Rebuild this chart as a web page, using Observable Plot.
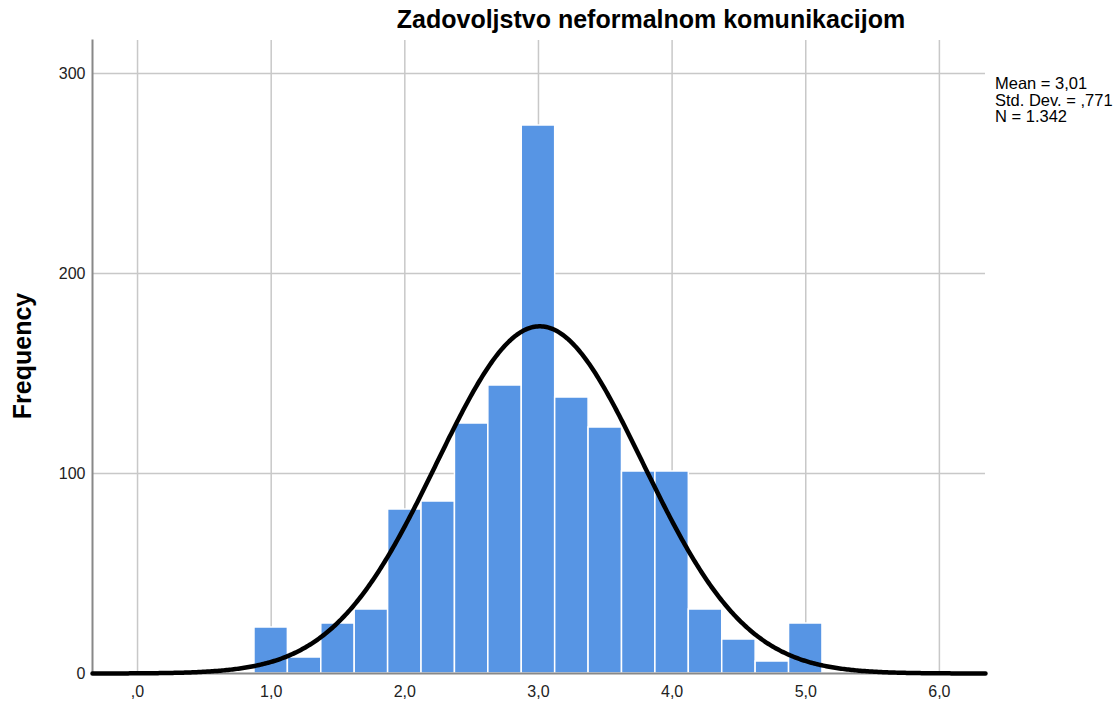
<!DOCTYPE html>
<html><head><meta charset="utf-8">
<script src="https://cdn.jsdelivr.net/npm/d3@7"></script>
<script src="https://cdn.jsdelivr.net/npm/@observablehq/plot@0.6"></script>
<style>
body{margin:0;background:#fff;font-family:"Liberation Sans",Arial,sans-serif;}
#wrap{position:relative;width:1120px;height:707px;}
#title{position:absolute;left:0;width:1302px;top:5px;text-align:center;font-weight:bold;font-size:25px;color:#000;}
#ylab{position:absolute;left:22px;top:356px;transform:translate(-50%,-50%) rotate(-90deg);font-weight:bold;font-size:25px;color:#000;white-space:nowrap;}
#stats{position:absolute;left:995px;top:75px;font-size:16.5px;line-height:16.5px;color:#000;}
</style></head><body>
<div id="wrap"><div id="chart"></div>
<div id="title">Zadovoljstvo neformalnom komunikacijom</div>
<div id="ylab">Frequency</div>
<div id="stats">Mean = 3,01<br>Std. Dev. = ,771<br>N = 1.342</div>
</div>
<script>
const binStart = [0.875,1.125,1.375,1.625,1.875,2.125,2.375,2.625,2.875,3.125,3.375,3.625,3.875,4.125,4.375,4.625,4.875];
const binEnd   = [1.125,1.375,1.625,1.875,2.125,2.375,2.625,2.875,3.125,3.375,3.625,3.875,4.125,4.375,4.625,4.875,5.125];
const counts   = [23,8,25,32,82,86,125,144,274,138,123,101,101,32,17,6,25];
const xTicks = [0,1,2,3,4,5,6];
const yTicks = [0,100,200,300];
const mean = 3.01, sd = 0.771, n = 1342, binWidth = 0.25;

const bars = counts.map((c,i)=>({x1:binStart[i],x2:binEnd[i],y:c}));
const xDom = [-0.337, 6.345];
const curve = d3.range(0, 601).map(i=>{
  const x = xDom[0] + (xDom[1]-xDom[0])*i/600;
  const y = n*binWidth/(sd*Math.sqrt(2*Math.PI))*Math.exp(-0.5*((x-mean)/sd)**2);
  return {x,y};
});
const fmt = d => d.toFixed(1).replace(".", ",").replace(/^0/, "");

const plot = Plot.plot({
  width:1120, height:707,
  marginLeft:92, marginRight:135, marginTop:40, marginBottom:34,
  style:{fontFamily:"Liberation Sans, Arial, sans-serif", fontSize:"16px", color:"#222", background:"#fff"},
  x:{domain:xDom, label:null},
  y:{domain:[0,316.5], label:null},
  marks:[
    Plot.ruleX(xTicks,{stroke:"#c8c8c8", strokeWidth:1.5}),
    Plot.ruleY(yTicks.filter(d=>d>0),{stroke:"#c8c8c8", strokeWidth:1.5}),
    Plot.rectY(bars,{x1:"x1",x2:"x2",y:"y",fill:"#5795e4",stroke:"#ffffff",strokeWidth:1.5}),
    Plot.frame({anchor:"left", stroke:"#888", strokeWidth:2}),
    Plot.frame({anchor:"bottom", stroke:"#888", strokeWidth:2}),
    Plot.line(curve,{x:"x",y:"y",stroke:"#000",strokeWidth:4.5}),
    Plot.axisX({ticks:xTicks, tickFormat:fmt, tickSize:0, tickPadding:12, label:null}),
    Plot.axisY({ticks:yTicks, tickSize:0, tickPadding:7, label:null})
  ]
});
document.getElementById("chart").appendChild(plot);
</script></body></html>
